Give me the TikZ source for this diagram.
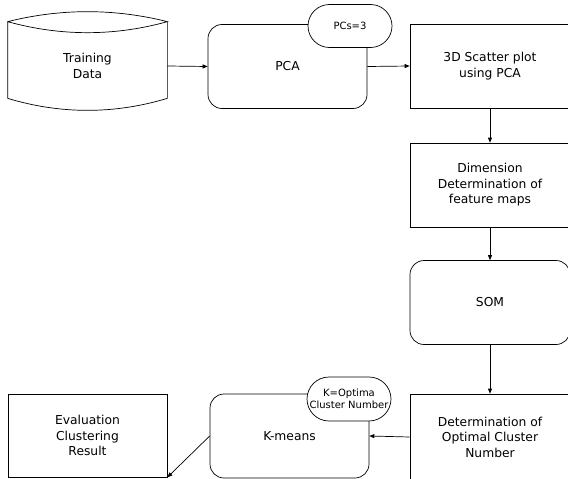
\documentclass[tikz,border=0pt]{standalone}
\usepackage{fontspec}
\setmainfont{DejaVu Sans}
\usetikzlibrary{arrows.meta,calc,shapes.misc}

\begin{document}
\begin{tikzpicture}[x=1pt,y=-1pt,line width=.7pt,>={Triangle[length=5pt,width=4pt]},
box/.style={draw,minimum width=160,minimum height=84,align=center,font=\fontsize{12.3}{15.5}\selectfont},
rbox/.style={box,rounded corners=14pt,minimum width=159},
pill/.style={draw,fill=white,rounded rectangle,minimum width=86,minimum height=43,inner sep=1pt,align=center,font=\fontsize{10}{12.5}\selectfont}]
\clip(0,0)rectangle(568,479);
\node[box,draw=none,minimum width=159,minimum height=88](train)at(87.5,66){Training\\Data};
\draw(train.north west)..controls+(53,-13.3)and+(-53,-13.3)..(train.north east)..controls+(-53,14.7)and+(53,14.7)..(train.north west)--($(train.south west)+(0,-12)$)..controls+(53,16)and+(-53,16)..($(train.south east)+(0,-12)$)--(train.north east);
\node[rbox](pca)at(287.5,66.5){PCA};\node[pill](pcs)at(350,26){PCs=3};
\node[box](scat)at(490,66){3D Scatter plot\\using PCA};
\node[box](dim)at(490,185){Dimension\\Determination of\\feature maps};
\node[rbox,minimum width=160](som)at(490,302.5){SOM};
\node[box,minimum height=86](opt)at(490,437){Determination of\\Optimal Cluster\\Number};
\node[rbox](km)at(289.5,436){K-means};\node[pill,minimum height=44](kopt)at(349,399){K=Optima\\Cluster Number};
\node[box,minimum width=159,minimum height=83](eval)at(87.5,435.5){Evaluation\\Clustering\\Result};
\draw[->](train.east)--(pca.west);\draw[->](pca.east)--(scat.west);
\draw[->](scat.south)--(dim.north);\draw[->](dim.south)--(som.north);\draw[->](som.south)--(opt.north);
\draw[->](opt.west)--(km.east);\draw[->](km.west)--(eval.south east);
\end{tikzpicture}
\end{document}
